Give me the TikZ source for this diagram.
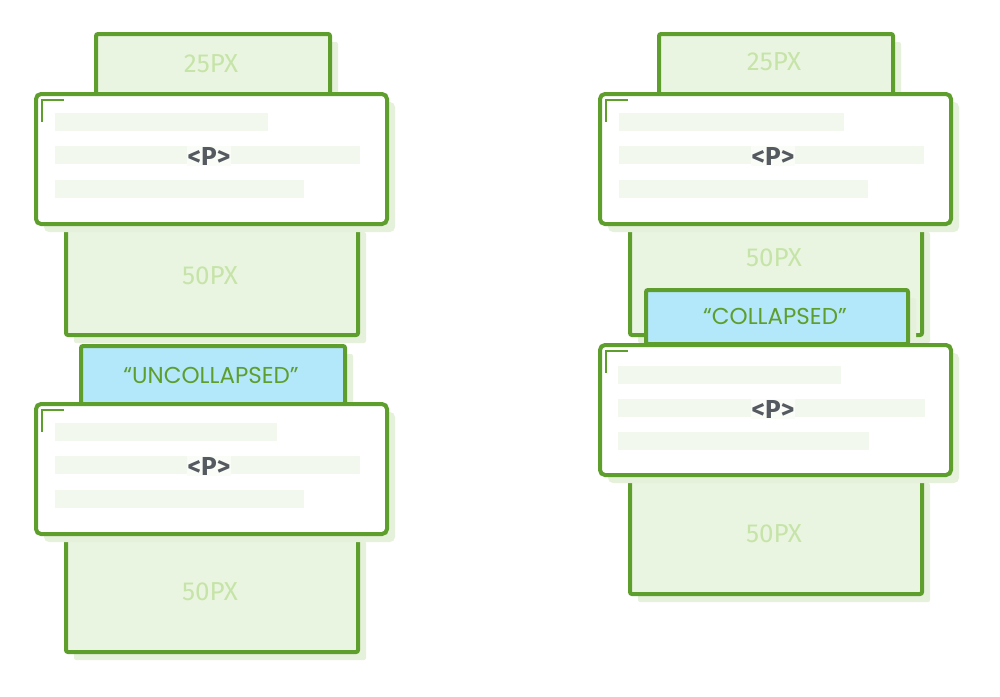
\documentclass[tikz,border=0pt]{standalone}
\usepackage{fontspec}
\setmainfont{Fira Sans}
\newfontfamily\labfont{Poppins}
\definecolor{gborder}{HTML}{5E9E2C}
\definecolor{gfill}{HTML}{EAF5E1}
\definecolor{gtext}{HTML}{C6E4A8}
\definecolor{shad}{HTML}{E6F1DC}
\definecolor{bfill}{HTML}{B3E8FB}
\definecolor{pline}{HTML}{F3F8EE}
\definecolor{ptext}{HTML}{555A60}
\begin{document}
\begin{tikzpicture}[x=1pt,y=-1pt,
 box/.style={draw=gborder,line width=4pt,rounded corners=2pt,inner sep=0pt,anchor=north west,
   preaction={fill=shad,transform canvas={shift={(8pt,-8pt)}}}},
 pxbox/.style={box,fill=gfill,text=gtext,font=\fontsize{26}{26}\selectfont},
 pbox/.style={box,fill=white,rounded corners=5pt},
 lab/.style={box,fill=bfill,text=gborder,font=\labfont\fontsize{23}{23}\selectfont},
 ptag/.style={fill=pline!40,text=ptext,font=\bfseries\fontsize{26}{26}\selectfont,inner sep=1pt}]
\useasboundingbox (0,0) rectangle (1000,696);
\newcommand\pblock[4]{% name, x, y, linewidths
 \node[pbox,minimum width=351pt,minimum height=130pt] (#1) at (#2,#3) {};
 \fill[pline] (#2+21,#3+21) rectangle ++(#4,18);
 \fill[pline] (#2+21,#3+54) rectangle ++(305,18);
 \fill[pline] (#2+21,#3+88) rectangle ++(249,18);
 \draw[gborder,line width=1.5pt] (#2+8,#3+30) -- (#2+8,#3+8) -- (#2+30,#3+8);
 \node[ptag] (#1t) at (#2+175,#3+64) {<P>};}
% left
\node[pxbox,minimum width=234pt,minimum height=63pt] (l25) at (94,32) {};
\node[text=gtext,font=\fontsize{26}{26}\selectfont] (l25t) at (211,64) {25PX};
\node[pxbox,minimum width=292pt,minimum height=111pt] (l50a) at (64,222) {};
\node[text=gtext,font=\fontsize{26}{26}\selectfont] (l50at) at (210,276) {50PX};
\node[pxbox,minimum width=292pt,minimum height=119pt] (l50b) at (64,531) {};
\node[text=gtext,font=\fontsize{26}{26}\selectfont] (l50bt) at (210,592) {50PX};
\node[lab,minimum width=264pt,minimum height=58pt] (ulab) at (79,344) {};
\node[text=gborder,font=\labfont\fontsize{23}{23}\selectfont] (ulabt) at (211,375) {“UNCOLLAPSED”};
\pblock{lp1}{34}{92}{213}
\pblock{lp2}{34}{402}{222}
% right
\node[pxbox,minimum width=234pt,minimum height=63pt] (r25) at (657,32) {};
\node[text=gtext,font=\fontsize{26}{26}\selectfont] (r25t) at (774,62) {25PX};
\node[pxbox,minimum width=292pt,minimum height=111pt] (r50a) at (628,222) {};
\node[text=gtext,font=\fontsize{26}{26}\selectfont] (r50at) at (774,258) {50PX};
\node[pxbox,minimum width=292pt,minimum height=119pt] (r50b) at (628,473) {};
\node[text=gtext,font=\fontsize{26}{26}\selectfont] (r50bt) at (774,534) {50PX};
\node[lab,minimum width=262pt,minimum height=54pt] (clab) at (644,288) {};
\node[text=gborder,font=\labfont\fontsize{23}{23}\selectfont] (clabt) at (775,316) {“COLLAPSED”};
\pblock{rp1}{598}{92}{225}
\node[pbox,minimum width=351pt,minimum height=130pt] (rp2) at (598,343) {};
\fill[pline] (618,366) rectangle ++(223,18);
\fill[pline] (618,399) rectangle ++(307,18);
\fill[pline] (618,432) rectangle ++(251,18);
\draw[gborder,line width=1.5pt] (606,373) -- (606,351) -- (628,351);
\node[ptag] (rp2t) at (773,409) {<P>};
\end{tikzpicture}
\end{document}
